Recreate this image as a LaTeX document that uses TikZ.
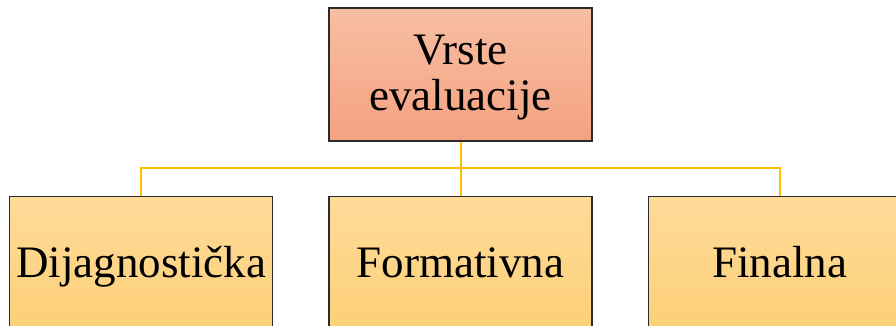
\documentclass[tikz,border=0pt]{standalone}
\usepackage{fontspec}
\setmainfont{Liberation Serif}
\usetikzlibrary{positioning}

\definecolor{lachsOben}{HTML}{F7BEA3}
\definecolor{lachsUnten}{HTML}{F4A280}
\definecolor{goldOben}{HTML}{FEDB9A}
\definecolor{goldUnten}{HTML}{FDD078}
\definecolor{linie}{HTML}{FFC000}
\definecolor{rand}{HTML}{2E2A26}

\tikzset{
  kasten/.style={draw=rand, line width=1pt, minimum width=197.25pt, minimum height=99.75pt,
    inner sep=0pt, font=\fontsize{33.75}{34.5}\selectfont},
  oberkasten/.style={kasten, top color=lachsOben, bottom color=lachsUnten, align=center},
  unterkasten/.style={kasten, top color=goldOben, bottom color=goldUnten,
    text height=29.75pt, text depth=8pt},
  verbinder/.style={draw=linie, line width=1.5pt}
}

\begin{document}
\begin{tikzpicture}[x=0.75pt,y=-0.75pt]
  % Rahmen des Bildes
  \useasboundingbox (0,0) rectangle (896,325);
  \clip (0,0) rectangle (896,325);

  % Oberster Kasten
  \node[oberkasten] (vrste) at (460.5,74.5) {\rule{0pt}{27pt}Vrste\\evaluacije};

  % Kaesten darunter
  \node[unterkasten, below=40.5pt of vrste] (formativna) {Formativna};
  \node[unterkasten, left=41.25pt of formativna] (dijagnosticka) {Dijagnostička};
  \node[unterkasten, right=41.25pt of formativna] (finalna) {Finalna};

  % Verbindungslinien
  \coordinate (knoten) at (460.5,168);
  \draw[verbinder] (vrste.south) -- (formativna.north);
  \draw[verbinder] (knoten) -| (dijagnosticka.north);
  \draw[verbinder] (knoten) -| (finalna.north);
\end{tikzpicture}
\end{document}
